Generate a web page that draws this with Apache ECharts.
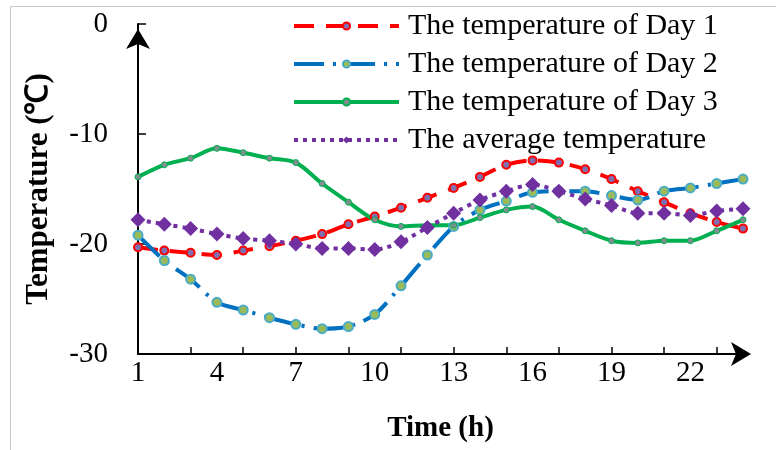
<!DOCTYPE html>
<html>
<head>
<meta charset="utf-8">
<script src="https://cdn.jsdelivr.net/npm/echarts@6/dist/echarts.min.js"></script>
<style>
  html, body { margin: 0; padding: 0; background: #fff; }
  #chart { width: 776px; height: 450px; }
</style>
</head>
<body>
<div id="chart"></div>
<script>
// hours of the day
const hours = ['1','2','3','4','5','6','7','8','9','10','11','12','13','14','15','16','17','18','19','20','21','22','23','24'];

// temperature readings (°C)
const day1 = [-20.3, -20.6, -20.8, -21.0, -20.6, -20.2, -19.7, -19.1, -18.2, -17.5, -16.7, -15.8,
              -14.9, -13.9, -12.8, -12.4, -12.6, -13.2, -14.1, -15.2, -16.2, -17.2, -18.0, -18.6];
const day2 = [-19.2, -21.5, -23.2, -25.3, -26.0, -26.7, -27.3, -27.7, -27.5, -26.4, -23.8, -21.0,
              -18.4, -16.9, -16.1, -15.3, -15.2, -15.2, -15.6, -16.0, -15.2, -14.9, -14.5, -14.1];
const day3 = [-13.9, -12.8, -12.2, -11.3, -11.7, -12.2, -12.6, -14.5, -16.2, -17.8, -18.4, -18.3,
              -18.3, -17.6, -16.9, -16.6, -17.8, -18.8, -19.7, -19.9, -19.7, -19.7, -18.8, -17.8];
const average = [-17.8, -18.2, -18.6, -19.1, -19.5, -19.7, -20.0, -20.4, -20.4, -20.5, -19.8, -18.5,
                 -17.2, -16.0, -15.2, -14.6, -15.2, -15.9, -16.5, -17.2, -17.2, -17.4, -17.0, -16.8];

const seriesNames = ['The temperature of Day 1', 'The temperature of Day 2', 'The temperature of Day 3', 'The average temperature'];
const yTicks = { min: -30, max: 0, interval: 10 };

const serif = "'Liberation Serif', 'Times New Roman', serif";

const chart = echarts.init(document.getElementById('chart'));

const option = {
  animation: false,
  backgroundColor: '#fff',
  graphic: [{
    // thin frame around the chart area
    type: 'rect',
    shape: { x: 10.5, y: 6.5, width: 800, height: 500 },
    style: { fill: 'none', stroke: '#c8c8c8', lineWidth: 1 },
    silent: true
  }],
  grid: { left: 138, right: 33, top: 24, bottom: 96 },
  legend: {
    orient: 'vertical',
    left: 292,
    top: 11,
    padding: 0,
    itemWidth: 105,
    itemHeight: 9,
    itemGap: 8,
    lineStyle: { width: 4 },
    textStyle: { fontFamily: serif, fontSize: 30, color: '#000', padding: [0, 0, 0, 4] },
    data: seriesNames
  },
  xAxis: {
    type: 'category',
    data: hours,
    boundaryGap: false,
    name: 'Time (h)',
    nameLocation: 'middle',
    nameGap: 60,
    nameTextStyle: { fontFamily: serif, fontSize: 29, fontWeight: 'bold', color: '#000' },
    axisLine: {
      onZero: false,
      lineStyle: { color: '#000', width: 2 },
      symbol: ['none', 'arrow'],
      symbolSize: [18, 20],
      symbolOffset: [0, 8]
    },
    axisTick: {
      inside: true,
      length: 7,
      interval: (index) => index % 2 === 0,
      lineStyle: { color: '#000', width: 1.5 }
    },
    axisLabel: {
      interval: (index) => index % 3 === 0,
      margin: 5,
      fontFamily: serif,
      fontSize: 29,
      color: '#000'
    },
    splitLine: { show: false }
  },
  yAxis: {
    type: 'value',
    min: yTicks.min,
    max: yTicks.max,
    interval: yTicks.interval,
    name: 'Temperature (℃)',
    nameLocation: 'middle',
    nameGap: 84,
    nameTextStyle: { fontFamily: serif, fontSize: 31, fontWeight: 'bold', color: '#000' },
    axisLine: {
      show: true,
      lineStyle: { color: '#000', width: 2 },
      symbol: ['none', 'arrow'],
      symbolSize: [18, 20],
      symbolOffset: [0, -5]
    },
    axisTick: { show: true, inside: true, length: 8, lineStyle: { color: '#000', width: 1.5 } },
    axisLabel: { margin: 30, fontFamily: serif, fontSize: 29, color: '#000' },
    splitLine: { show: false }
  },
  series: [
    {
      name: seriesNames[0],
      type: 'line',
      data: day1,
      smooth: 0.3,
      symbol: 'circle',
      symbolSize: 8,
      lineStyle: { color: '#ff0000', width: 4, type: [20, 12] },
      itemStyle: { color: '#7f6fb0', borderColor: '#ff0000', borderWidth: 2 }
    },
    {
      name: seriesNames[1],
      type: 'line',
      data: day2,
      smooth: 0.3,
      symbol: 'circle',
      symbolSize: 9,
      lineStyle: { color: '#0070c0', width: 4, type: [30, 9, 3, 9] },
      itemStyle: { color: '#9bbb59', borderColor: '#4bacc6', borderWidth: 2 }
    },
    {
      name: seriesNames[2],
      type: 'line',
      data: day3,
      smooth: 0.3,
      symbol: 'circle',
      symbolSize: 6,
      lineStyle: { color: '#00b050', width: 4 },
      itemStyle: { color: '#7f8f8f', borderColor: '#00b050', borderWidth: 1 }
    },
    {
      name: seriesNames[3],
      type: 'line',
      data: average,
      smooth: 0.3,
      symbol: 'diamond',
      symbolSize: 15,
      lineStyle: { color: '#7030a0', width: 4, type: [4, 5] },
      itemStyle: { color: '#7030a0' }
    }
  ]
};

chart.setOption(option);
</script>
</body>
</html>
